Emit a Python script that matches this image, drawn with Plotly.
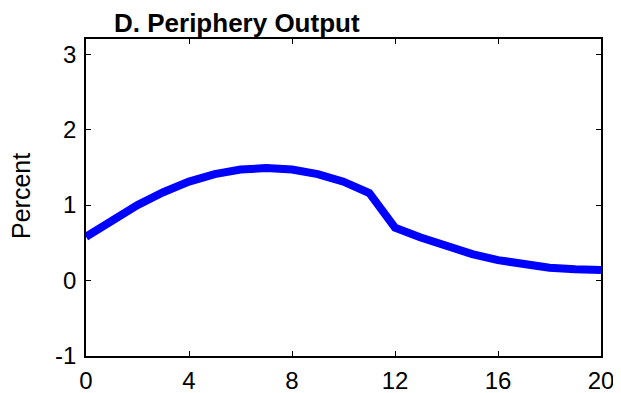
import plotly.graph_objects as go

quarters = list(range(21))
output = [0.58, 0.80, 1.00, 1.17, 1.31, 1.41, 1.47, 1.49, 1.47, 1.41,
          1.31, 1.16, 0.70, 0.57, 0.45, 0.35, 0.27, 0.21, 0.17, 0.15, 0.14]
x_ticks = [0, 4, 8, 12, 16, 20]
y_ticks = [-1, 0, 1, 2, 3]
y_tick_labels = ["-1", "0", "1", "2", "3"]
title_text = "D. Periphery Output"
y_label = "Percent"

FONT = "Liberation Sans, Arial, Helvetica, sans-serif"

# page body has an 8px default margin; compensate
OFF = 8
L, R, T, B = 86 - OFF, 20, 39 - OFF, 37
W, H = 621 - OFF, 393 - OFF
PW, PH = W - L - R, H - T - B

fig = go.Figure()
fig.add_trace(go.Scatter(x=quarters, y=output, mode="lines",
                         line=dict(color="#0000ff", width=8), showlegend=False))

axis_common = dict(showline=True, linecolor="black", linewidth=1.5, mirror="ticks",
                   ticks="inside", ticklen=5, tickcolor="black", tickwidth=1,
                   showgrid=False, zeroline=False, automargin=False,
                   tickfont=dict(family=FONT, size=24, color="black"))

fig.update_xaxes(range=[0, 20], tickvals=x_ticks, ticklabelstandoff=2, **axis_common)
fig.update_yaxes(range=[-1, 3.2], tickvals=y_ticks, ticktext=y_tick_labels,
                 ticklabelstandoff=3, **axis_common)

fig.add_annotation(text=title_text, xref="paper", yref="paper",
                   x=(112 - 86) / PW, y=1 + (39 - 22.5) / PH, xanchor="left", yanchor="middle",
                   showarrow=False, font=dict(family=FONT, size=26, color="black", weight="bold"))
fig.add_annotation(text=y_label, xref="paper", yref="paper",
                   x=-(86 - 21) / PW, y=(356 - 196) / PH, xanchor="center", yanchor="middle",
                   textangle=-90, showarrow=False,
                   font=dict(family=FONT, size=25, color="black"))

fig.update_layout(width=W, height=H, margin=dict(l=L, r=R, t=T, b=B),
                  plot_bgcolor="white", paper_bgcolor="white")

fig.write_html("out.html")
